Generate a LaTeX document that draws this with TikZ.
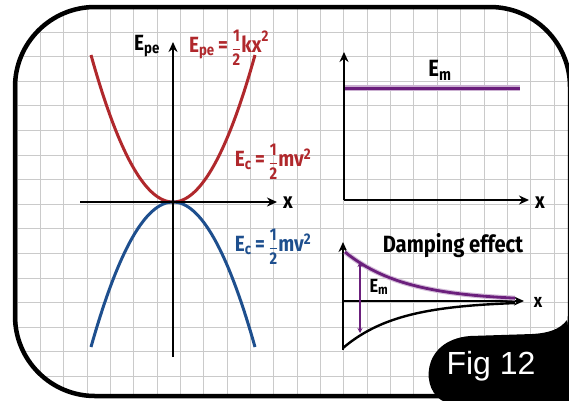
\documentclass[tikz,border=0pt]{standalone}
\usepackage{fontspec}
\usepackage{amsmath}
\setmainfont{Fira Sans}[FakeStretch=0.86]
\newfontfamily\figfont{Liberation Sans}
\usetikzlibrary{arrows.meta}
\definecolor{myred}{HTML}{B0282C}
\definecolor{myblue}{HTML}{1E4F8E}
\definecolor{mypurple}{HTML}{6B1F7C}
\definecolor{gridgray}{HTML}{CACACA}
\newcommand\myhalf{\raisebox{-0.9pt}{\fontsize{17}{17}\selectfont$\genfrac{}{}{1pt}{0}{\text{1}}{\text{2}}$}}
\newcommand\myeq{\,\text{=}\,}
\begin{document}
\begin{tikzpicture}[x=1pt,y=-1pt,
  gridline/.style={gridgray, line width=1pt},
  axisline/.style={line width=2.6pt, -{Stealth[length=10pt,width=9pt]}},
  plainaxis/.style={line width=2.6pt},
  curve/.style={line width=3pt},
  lbl/.style={inner sep=0pt, font=\fontsize{22}{24}\selectfont\bfseries},
  biglbl/.style={inner sep=0pt, font=\fontsize{23.5}{25}\selectfont\bfseries},
  smalllbl/.style={inner sep=0pt, font=\fontsize{19}{21}\selectfont\bfseries}]
\useasboundingbox (0,0) rectangle (569,400);
\fill[white] (0,0) rectangle (569,400);
% grid inside frame
\begin{scope}
\clip[rounded corners=80pt] (15,7) rectangle (570,396);
\foreach \i in {0,...,24} \draw[gridline] ({17+23.35*\i},0) -- ({17+23.35*\i},400);
\foreach \j in {0,...,16} \draw[gridline] (0,{7.4+24.6*\j}) -- (569,{7.4+24.6*\j});
\end{scope}
% frame
\draw[line width=4.5pt, rounded corners=80pt] (15,7) rectangle (570,396);

% ---------- left plot ----------
\coordinate (O) at (173,202);
\coordinate (ytop) at (173,42);
\coordinate (ybot) at (173,357);
\coordinate (xleft) at (80,202);
\coordinate (xright) at (277,202);
\draw[curve, myred] plot[domain=-82:82, samples=80] ({173+\x}, {202-147*(\x/82)^2});
\draw[curve, myblue] plot[domain=-82:82, samples=80] ({173+\x}, {202+145*(\x/82)^2});
\draw[plainaxis] (ybot) -- (O);
\draw[axisline] (O) -- (ytop);
\draw[plainaxis] (xleft) -- (O);
\draw[axisline] (O) -- (xright);
\node[lbl] (xlab1) at (288,203) {x};
\node[lbl] (epe) at (147,46) {$\text{E}_{\text{pe}}$};
\node[lbl, text=myred] (redeq) at (229,48) {$\text{E}_{\text{pe}}\myeq\myhalf\text{kx}^{\text{2}}$};
\node[lbl, text=myred] (redec) at (273,162) {$\text{E}_{\text{c}}\myeq\myhalf\text{mv}^{\text{2}}$};
\node[lbl, text=myblue] (blueec) at (273,247) {$\text{E}_{\text{c}}\myeq\myhalf\text{mv}^{\text{2}}$};

% ---------- top right plot ----------
\coordinate (O2) at (344,200);
\coordinate (y2top) at (344,52);
\coordinate (x2right) at (529,200);
\draw[axisline] (O2) -- (y2top);
\draw[axisline] (O2) -- (x2right);
\coordinate (em1) at (345,88);
\coordinate (em2) at (520,88);
\draw[line width=6pt, mypurple!35] (em1) -- (em2);
\draw[line width=3pt, mypurple] (em1) -- (em2);
\node[biglbl] (emtop) at (440,70) {$\text{E}_{\text{m}}$};
\node[lbl] (xlab2) at (540,203) {x};

% ---------- bottom right plot ----------
\coordinate (O3) at (343,301);
\coordinate (y3top) at (343,242);
\coordinate (y3bot) at (343,350);
\coordinate (x3right) at (524,301);
\draw[plainaxis] (y3bot) -- (O3);
\draw[axisline] (O3) -- (y3top);
\draw[axisline] (O3) -- (x3right);
\draw[line width=5pt, mypurple!30] plot[domain=345:515, samples=60] (\x, {301-49*exp(-(\x-345)/60)});
\draw[line width=2.8pt, mypurple] plot[domain=345:515, samples=60] (\x, {301-49*exp(-(\x-345)/60)});
\draw[line width=2.4pt] plot[domain=343:515, samples=60] (\x, {301+47*exp(-(\x-343)/55)});
\coordinate (da1) at (360,262);
\coordinate (da2) at (360,333);
\draw[line width=1.6pt, mypurple, {Stealth[length=5pt,width=5pt]}-{Stealth[length=5pt,width=5pt]}] (da1) -- (da2);
\node[smalllbl] (embot) at (379,287) {$\text{E}_{\text{m}}$};
\node[biglbl] (damp) at (453,246) {Damping effect};
\node[smalllbl] (xlab3) at (538,302) {x};

% ---------- Fig 12 blob ----------
\fill[black] (445,402) .. controls (420,392) and (420,340) .. (470,336)
  -- (532,334) .. controls (550,333) and (560,329) .. (567,320)
  .. controls (570,340) and (570,360) .. (571,402) -- cycle;
\node[text=white, inner sep=0pt, font=\figfont\fontsize{32}{34}\selectfont] (fig) at (491,366) {Fig 12};
\end{tikzpicture}
\end{document}
